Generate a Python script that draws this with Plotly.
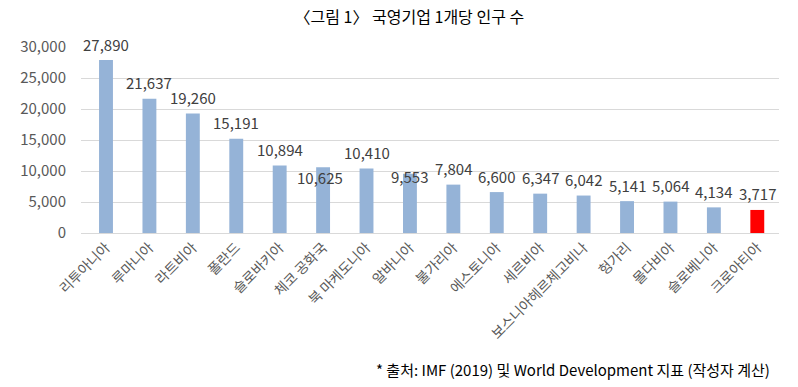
import plotly.graph_objects as go

categories = ["리투아니아", "루마니아", "라트비아", "폴란드", "슬로바키아", "체코 공화국",
              "북 마케도니아", "알바니아", "불가리아", "에스토니아", "세르비아",
              "보스니아헤르체고비나", "헝가리", "몰다비아", "슬로베니아", "크로아티아"]
values = [27890, 21637, 19260, 15191, 10894, 10625, 10410, 9553, 7804, 6600, 6347,
          6042, 5141, 5064, 4134, 3717]
yticks = [0, 5000, 10000, 15000, 20000, 25000, 30000]

FONT = "Noto Sans CJK KR"
blue = "#95B3D7"
colors = [blue] * (len(categories) - 1) + ["#FF0000"]

fig = go.Figure(go.Bar(x=categories, y=values, marker_color=colors, marker_line_width=0,
                       hoverinfo="x+y"))

# label offsets (px) for data labels
label_shift = {5: (-3, -10), 7: (0, -3)}
for i, (c, v) in enumerate(zip(categories, values)):
    dx, dy = label_shift.get(i, (0, 16))
    fig.add_annotation(x=c, y=v, text=f"{v:,}", showarrow=False, xshift=dx, yshift=dy,
                       yanchor="middle", font=dict(family=FONT, size=15, color="#404040"))

fig.add_annotation(text="* 출처: IMF (2019) 및 World Development 지표 (작성자 계산)",
                   xref="paper", yref="paper", x=1.0, y=-0.735, xanchor="right",
                   xshift=-7, yanchor="middle", showarrow=False,
                   font=dict(family=FONT, size=15, color="#000000"))

fig.update_layout(
    width=798, height=387,
    margin=dict(l=81, r=19, t=47, b=154, autoexpand=False),
    paper_bgcolor="white", plot_bgcolor="white",
    bargap=0.68,
    showlegend=False,
    title=dict(text="〈그림 1〉 국영기업 1개당 인구 수", x=0.513, xanchor="center",
               y=0.955, yanchor="middle",
               font=dict(family=FONT, size=16, color="#000000")),
    font=dict(family=FONT),
)
fig.update_yaxes(range=[0, 30000], tickvals=yticks, tickformat=",",
                 showgrid=True, gridcolor="#D9D9D9", gridwidth=1,
                 zeroline=False, showline=False, ticks="", automargin=False,
                 ticklabelstandoff=14,
                 tickfont=dict(family=FONT, size=15, color="#595959"))
fig.update_xaxes(tickangle=-45, showline=True, linecolor="#D9D9D9", linewidth=1,
                 ticks="", showgrid=False, automargin=False,
                 tickfont=dict(family=FONT, size=14, color="#595959"))

fig.write_html("out.html", config={"displayModeBar": False},
               post_script="document.body.style.margin='0';document.body.style.overflow='hidden';")
